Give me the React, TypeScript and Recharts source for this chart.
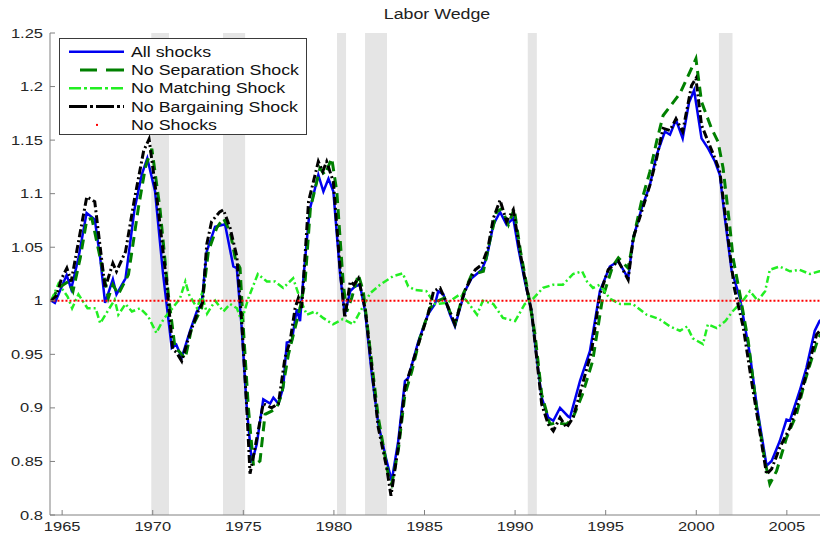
import { LineChart, Line, XAxis, YAxis, ReferenceArea, Legend } from "recharts";

// [year, value]
const allShocks: [number, number][] = [
  [1964.4, 1.0], [1964.6, 0.998], [1964.9, 1.01], [1965.25, 1.024], [1965.5, 1.011], [1965.9, 1.04],
  [1966.35, 1.082], [1966.8, 1.076], [1967.1, 1.04], [1967.37, 0.998], [1967.8, 1.02], [1968.0, 1.006],
  [1968.5, 1.021], [1969.0, 1.086], [1969.4, 1.118], [1969.7, 1.133], [1970.13, 1.102], [1970.57, 1.025],
  [1971.05, 0.956], [1971.3, 0.959], [1971.6, 0.947], [1972.06, 0.972], [1972.43, 0.99], [1972.7, 0.997],
  [1972.98, 1.046], [1973.44, 1.069], [1973.99, 1.0715], [1974.45, 1.032], [1974.64, 1.0305], [1974.91, 0.975],
  [1975.19, 0.9], [1975.47, 0.849], [1975.74, 0.866], [1976.1, 0.908], [1976.48, 0.904], [1976.66, 0.9095],
  [1976.94, 0.904], [1977.2, 0.919], [1977.4, 0.961], [1977.67, 0.962], [1977.95, 0.992], [1978.13, 0.981],
  [1978.3, 1.018], [1978.6, 1.074], [1978.68, 1.086], [1979.14, 1.1175], [1979.42, 1.102], [1979.7, 1.114],
  [1979.97, 1.102], [1980.34, 1.025], [1980.6, 0.987], [1980.9, 1.009], [1981.17, 1.0135], [1981.44, 1.015],
  [1981.72, 0.99], [1982.09, 0.9316], [1982.45, 0.885], [1982.91, 0.8505], [1983.19, 0.832], [1983.55, 0.869],
  [1983.92, 0.925], [1984.1, 0.928], [1984.66, 0.962], [1985.2, 0.9875], [1985.58, 0.997], [1985.76, 1.009],
  [1986.04, 1.006], [1986.4, 0.9875], [1986.68, 0.976], [1986.96, 0.993], [1987.23, 1.009], [1987.6, 1.021],
  [1988.16, 1.029], [1988.43, 1.04], [1988.8, 1.071], [1989.17, 1.083], [1989.53, 1.071], [1989.9, 1.077],
  [1990.18, 1.049], [1990.54, 1.018], [1990.91, 0.99], [1991.19, 0.947], [1991.47, 0.9095], [1991.83, 0.891],
  [1992.11, 0.888], [1992.48, 0.9], [1992.93, 0.892], [1993.03, 0.891], [1993.58, 0.925], [1994.13, 0.953],
  [1994.68, 1.009], [1995.23, 1.032], [1995.7, 1.037], [1996.24, 1.021], [1996.52, 1.0585], [1996.98, 1.086],
  [1997.44, 1.108], [1997.81, 1.136], [1998.27, 1.158], [1998.55, 1.155], [1998.88, 1.169], [1999.25, 1.1516],
  [1999.6, 1.185], [1999.88, 1.1966], [2000.29, 1.1516], [2000.66, 1.142], [2001.03, 1.13], [2001.3, 1.1175],
  [2001.58, 1.077], [2001.95, 1.028], [2002.41, 1.0026], [2002.96, 0.95], [2003.33, 0.9033], [2003.88, 0.846],
  [2004.16, 0.8505], [2004.61, 0.869], [2004.98, 0.889], [2005.17, 0.888], [2005.71, 0.916], [2006.08, 0.9374],
  [2006.54, 0.972], [2006.8, 0.981], [2007.1, 0.985],
];

const noSeparation: [number, number][] = [
  [1964.4, 1.0], [1964.8, 1.012], [1965.35, 1.018], [1965.6, 1.009], [1966.0, 1.04], [1966.36, 1.0756],
  [1966.64, 1.077], [1967.1, 1.04], [1967.55, 1.0026], [1967.8, 1.015], [1968.1, 1.006], [1968.66, 1.0244],
  [1969.2, 1.086], [1969.6, 1.125], [1969.95, 1.142], [1970.4, 1.086], [1970.86, 1.006], [1971.23, 0.956],
  [1971.5, 0.952], [1971.79, 0.946], [1972.15, 0.9747], [1972.7, 0.9933], [1973.07, 1.046], [1973.53, 1.068],
  [1973.9, 1.077], [1974.27, 1.0647], [1974.55, 1.04], [1974.82, 1.0305], [1975.0, 0.975], [1975.28, 0.9],
  [1975.56, 0.846], [1975.92, 0.8505], [1976.2, 0.894], [1976.56, 0.897], [1976.84, 0.9], [1977.12, 0.9127],
  [1977.49, 0.95], [1977.86, 0.975], [1978.13, 0.9933], [1978.41, 1.018], [1978.7, 1.086], [1979.23, 1.1237],
  [1979.5, 1.1175], [1979.88, 1.133], [1980.16, 1.102], [1980.52, 1.015], [1980.71, 0.99], [1980.98, 1.0026],
  [1981.35, 1.0244], [1981.62, 1.009], [1981.99, 0.956], [1982.45, 0.891], [1983.0, 0.838], [1983.19, 0.829],
  [1983.55, 0.86], [1983.92, 0.9127], [1984.3, 0.934], [1984.75, 0.9654], [1985.3, 0.9933], [1985.76, 1.0],
  [1986.1, 1.0026], [1986.68, 0.978], [1987.13, 1.006], [1987.6, 1.0244], [1988.25, 1.0275], [1988.6, 1.0554],
  [1988.98, 1.083], [1989.26, 1.086], [1989.63, 1.071], [1989.95, 1.086], [1990.3, 1.046], [1990.7, 1.009],
  [1991.1, 0.9685], [1991.47, 0.9127], [1991.92, 0.8847], [1992.29, 0.886], [1992.84, 0.8847], [1993.2, 0.891],
  [1993.72, 0.9127], [1994.28, 0.9437], [1994.83, 1.0026], [1995.38, 1.032], [1995.7, 1.04], [1996.24, 1.0305],
  [1996.61, 1.0647], [1996.98, 1.093], [1997.44, 1.1206], [1997.81, 1.1485], [1998.17, 1.173], [1998.63, 1.183],
  [1999.1, 1.1935], [1999.65, 1.2137], [1999.98, 1.226], [2000.29, 1.1857], [2000.84, 1.161], [2001.2, 1.1485],
  [2001.48, 1.124], [2001.86, 1.068], [2002.03, 1.04], [2002.41, 1.006], [2002.87, 0.962], [2003.33, 0.9],
  [2003.79, 0.8505], [2004.06, 0.829], [2004.43, 0.841], [2004.98, 0.872], [2005.53, 0.894], [2006.0, 0.925],
  [2006.45, 0.95], [2006.74, 0.9654], [2007.1, 0.975],
];

const noMatching: [number, number][] = [
  [1964.4, 1.0], [1964.8, 1.016], [1965.3, 1.004], [1965.55, 0.993], [1965.9, 1.006], [1966.4, 0.993],
  [1966.85, 0.993], [1967.1, 0.979], [1967.5, 0.99], [1967.9, 1.001], [1968.1, 0.987], [1968.5, 0.997],
  [1968.85, 0.99], [1969.3, 0.993], [1969.75, 0.9855], [1970.2, 0.97], [1970.6, 0.983], [1970.95, 0.99],
  [1971.5, 1.002], [1971.8, 1.018], [1972.0, 1.006], [1972.45, 0.993], [1972.7, 1.006], [1973.0, 0.988],
  [1973.45, 1.0], [1973.9, 0.99], [1974.27, 0.997], [1974.65, 0.993], [1974.9, 0.981], [1975.27, 1.002],
  [1975.8, 1.025], [1976.3, 1.018], [1976.75, 1.018], [1977.2, 1.012], [1977.75, 1.021], [1978.13, 1.002],
  [1978.5, 0.987], [1978.96, 0.99], [1979.4, 0.984], [1979.95, 0.978], [1980.5, 0.983], [1981.06, 0.978],
  [1981.55, 0.993], [1982.0, 1.007], [1982.55, 1.015], [1983.27, 1.023], [1983.8, 1.0256], [1984.1, 1.0135],
  [1984.5, 1.01], [1985.1, 1.009], [1985.58, 0.997], [1986.24, 0.998], [1986.96, 1.006], [1987.33, 1.0],
  [1987.9, 0.987], [1988.22, 1.0], [1988.8, 0.997], [1989.33, 0.984], [1990.0, 0.981], [1990.54, 0.997],
  [1991.0, 1.002], [1991.54, 1.012], [1992.1, 1.015], [1992.64, 1.015], [1993.2, 1.025], [1993.7, 1.0275],
  [1993.97, 1.018], [1994.3, 1.012], [1994.68, 1.015], [1995.23, 1.002], [1995.8, 0.997], [1996.5, 0.997],
  [1997.26, 0.987], [1997.95, 0.983], [1998.55, 0.976], [1999.1, 0.972], [1999.5, 0.976], [1999.8, 0.965],
  [2000.37, 0.9595], [2000.64, 0.978], [2001.13, 0.9745], [2001.6, 0.981], [2002.0, 0.99], [2002.57, 1.0],
  [2002.96, 1.009], [2003.4, 1.0], [2003.8, 1.009], [2004.06, 1.029], [2004.6, 1.032], [2005.17, 1.0275],
  [2005.7, 1.029], [2006.27, 1.025], [2006.8, 1.0275], [2007.1, 1.028],
];

const noBargaining: [number, number][] = [
  [1964.4, 1.0], [1964.7, 1.005], [1964.95, 1.02], [1965.26, 1.0305], [1965.5, 1.018], [1965.9, 1.055],
  [1966.36, 1.097], [1966.8, 1.0926], [1967.1, 1.05], [1967.37, 1.012], [1967.8, 1.035], [1968.0, 1.0275],
  [1968.5, 1.046], [1969.0, 1.0957], [1969.5, 1.14], [1969.8, 1.151], [1970.3, 1.086], [1970.78, 1.015],
  [1971.1, 0.9548], [1971.3, 0.952], [1971.6, 0.9437], [1972.06, 0.97], [1972.5, 0.99], [1972.75, 0.998],
  [1972.98, 1.0526], [1973.25, 1.074], [1973.7, 1.083], [1973.9, 1.085], [1974.27, 1.068], [1974.64, 1.0415],
  [1974.91, 0.981], [1975.19, 0.9], [1975.37, 0.8385], [1975.65, 0.863], [1976.1, 0.904], [1976.56, 0.9],
  [1976.94, 0.904], [1977.3, 0.947], [1977.58, 0.962], [1977.86, 0.9933], [1978.04, 1.0026], [1978.22, 0.9933],
  [1978.6, 1.0926], [1979.14, 1.13], [1979.38, 1.1206], [1979.6, 1.13], [1979.97, 1.111], [1980.34, 1.0305],
  [1980.6, 0.984], [1980.9, 1.018], [1981.1, 1.015], [1981.35, 1.021], [1981.72, 0.9933], [1982.09, 0.9374],
  [1982.45, 0.8815], [1982.91, 0.8443], [1983.15, 0.818], [1983.55, 0.863], [1983.92, 0.919], [1984.66, 0.9595],
  [1985.2, 0.9875], [1985.5, 1.009], [1985.86, 1.012], [1986.1, 1.0026], [1986.68, 0.978], [1987.05, 1.0],
  [1987.3, 1.012], [1987.8, 1.029], [1988.16, 1.0337], [1988.5, 1.049], [1988.8, 1.077], [1989.17, 1.094],
  [1989.53, 1.074], [1989.9, 1.085], [1990.27, 1.046], [1990.6, 1.015], [1990.91, 0.99], [1991.19, 0.947],
  [1991.47, 0.9033], [1991.83, 0.8847], [1992.11, 0.8785], [1992.48, 0.891], [1992.84, 0.8815], [1993.2, 0.891],
  [1993.67, 0.919], [1994.22, 0.953], [1994.68, 1.006], [1995.14, 1.029], [1995.7, 1.037], [1996.24, 1.0197],
  [1996.52, 1.0585], [1996.98, 1.083], [1997.44, 1.108], [1997.81, 1.133], [1998.17, 1.161], [1998.55, 1.159],
  [1998.88, 1.17], [1999.25, 1.158], [1999.74, 1.201], [1999.98, 1.2075], [2000.29, 1.164], [2000.66, 1.1485],
  [2001.03, 1.133], [2001.3, 1.1206], [2001.62, 1.077], [2001.96, 1.0305], [2002.1, 1.012], [2002.6, 0.9747],
  [2003.05, 0.925], [2003.5, 0.8785], [2003.88, 0.838], [2004.16, 0.843], [2004.61, 0.863], [2005.17, 0.8815],
  [2005.71, 0.9095], [2006.17, 0.9374], [2006.64, 0.9685], [2006.8, 0.9716], [2007.1, 0.978],
];

const noShocks: [number, number][] = [[1964.3, 1.0], [2007.1, 1.0]];

// shaded recessions
const recessionStart = [1969.92, 1973.88, 1980.17, 1981.72, 1990.7, 2001.25];
const recessionEnd = [1970.9, 1975.1, 1980.67, 1982.93, 1991.2, 2002.0];

const xTicks = [1965, 1970, 1975, 1980, 1985, 1990, 1995, 2000, 2005];
const yTicks = [0.8, 0.85, 0.9, 0.95, 1, 1.05, 1.1, 1.15, 1.2, 1.25];

const FONT = "'Liberation Sans', Arial, sans-serif";
const STRETCH = 1.27; // the source figure is stretched sideways
const AXIS = "#808080";

const toPts = (a: [number, number][]) => a.map(([x, y]) => ({ x, y }));

const series = [
  { name: "All shocks", data: allShocks, color: "#0000f0", width: 2.5, dash: undefined, legendDash: undefined },
  { name: "No Separation Shock", data: noSeparation, color: "#008000", width: 3, dash: "10 6", legendDash: "0 11 17 9 17" },
  { name: "No Matching Shock", data: noMatching, color: "#22ee22", width: 2.5, dash: "7 3 2 3", legendDash: "12 3 3 3" },
  { name: "No Bargaining Shock", data: noBargaining, color: "#000000", width: 3, dash: "8 3 2 3", legendDash: "18 3 3 3" },
  { name: "No Shocks", data: noShocks, color: "#ff0000", width: 2, dash: "2 2", legendDash: "dot" },
];

function XTick(props: any) {
  const { x, y, payload } = props;
  return (
    <g>
      <line x1={x} x2={x} y1={y} y2={y - 5} stroke={AXIS} />
      <text transform={`translate(${x},${y + 16}) scale(${STRETCH},1)`} textAnchor="middle"
        fontFamily={FONT} fontSize={13} fill="#262626">{payload.value}</text>
    </g>
  );
}

function YTick(props: any) {
  const { x, y, payload } = props;
  return (
    <g>
      <line x1={x} x2={x + 5} y1={y} y2={y} stroke={AXIS} />
      <text transform={`translate(${x - 7},${y + 4.5}) scale(${STRETCH},1)`} textAnchor="end"
        fontFamily={FONT} fontSize={13} fill="#262626">{+Number(payload.value).toFixed(2)}</text>
    </g>
  );
}

function LegendBox() {
  return (
    <svg width={249} height={98} style={{ display: "block" }}>
      <rect x={0.5} y={0.5} width={247} height={96} fill="#fff" stroke="#3a3a3a" />
      {series.map((s, i) => {
        const cy = 13.7 + i * 18.3;
        return (
          <g key={s.name}>
            {s.legendDash === "dot" ? (
              <rect x={37} y={cy - 1} width={2} height={2} fill={s.color} />
            ) : (
              <line x1={10} x2={65} y1={cy} y2={cy} stroke={s.color} strokeWidth={s.width}
                strokeDasharray={s.legendDash} />
            )}
            <text transform={`translate(72,${cy + 5}) scale(${STRETCH},1)`} fontFamily={FONT}
              fontSize={14} fill="#111">{s.name}</text>
          </g>
        );
      })}
    </svg>
  );
}

export default function App() {
  return (
    <div style={{ position: "absolute", left: 0, top: 0, width: 820, height: 533, overflow: "hidden", background: "#fff" }}>
      <div style={{
        position: "absolute", left: 0, top: 6, width: 874, textAlign: "center", fontFamily: FONT,
        fontSize: 14, color: "#222", transform: `scaleX(${STRETCH})`, transformOrigin: "437px 0",
      }}>Labor Wedge</div>
      <LineChart width={830} height={533} margin={{ top: 33, right: 6, bottom: 0, left: 0 }}>
        {recessionStart.map((s, i) => (
          <ReferenceArea key={s} x1={s} x2={recessionEnd[i]} fill="#e5e5e5" fillOpacity={1}
            stroke="none" ifOverflow="hidden" />
        ))}
        <XAxis type="number" dataKey="x" domain={[1964.33, 2007.05]} ticks={xTicks} interval={0}
          allowDataOverflow height={18} axisLine={{ stroke: AXIS }} tickLine={false}
          tickSize={0} tickMargin={0} tick={<XTick />} />
        <YAxis type="number" dataKey="y" domain={[0.8, 1.25]} ticks={yTicks} interval={0}
          allowDataOverflow width={50} axisLine={{ stroke: AXIS }} tickLine={false}
          tickSize={0} tickMargin={0} tick={<YTick />} />
        {series.map(s => (
          <Line key={s.name} name={s.name} data={toPts(s.data)} dataKey="y" type="linear"
            stroke={s.color} strokeWidth={s.width} strokeDasharray={s.dash} dot={false}
            activeDot={false} isAnimationActive={false} />
        ))}
        <Legend layout="horizontal" verticalAlign="middle" align="center" content={() => <LegendBox />}
          wrapperStyle={{ left: 59, top: 38, width: 249, height: 98 }} />
      </LineChart>
    </div>
  );
}
